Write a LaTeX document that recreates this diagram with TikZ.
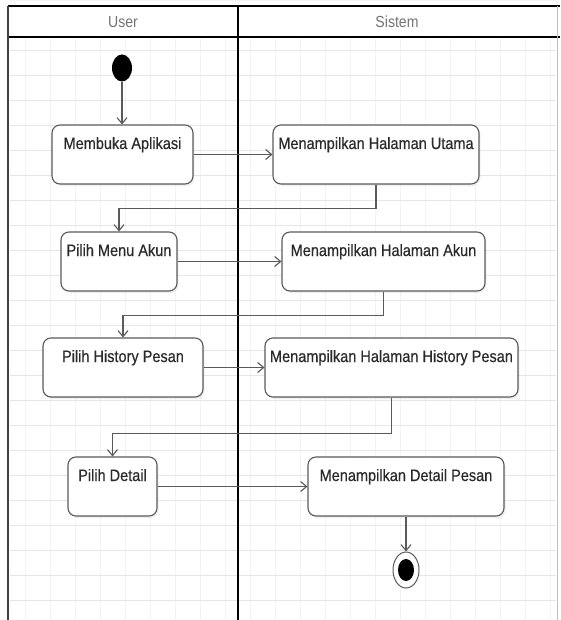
\documentclass[tikz,border=0pt]{standalone}
\usepackage{fontspec}
\setmainfont{Liberation Sans}
\newfontfamily\actfont[FakeStretch=0.88,FakeBold=0.4]{Liberation Sans}
\newfontfamily\headfont[FakeStretch=0.88]{Liberation Sans}
\usetikzlibrary{arrows.meta,shapes.geometric,shadows}
\definecolor{LineGray}{HTML}{5A5A5A}
\definecolor{GridGray}{HTML}{E6E6E6}
\definecolor{GridGrayV}{HTML}{F4F4F4}
\definecolor{TextGray}{HTML}{2A2A2A}

\begin{document}
\begin{tikzpicture}[x=1pt,y=-1pt,>={Straight Barb[length=6pt,width=10pt]},
    act/.style={draw=LineGray,line width=1.1pt,rounded corners=8pt,fill=white,
      drop shadow={shadow xshift=1.5pt,shadow yshift=-2pt,opacity=.12},
      font=\actfont\fontsize{16.5}{19}\selectfont,text=TextGray,
      inner xsep=3pt,inner ysep=5pt,text height=19pt,text depth=30pt},
    flow/.style={->,draw=LineGray,line width=1.1pt},
    lane/.style={line width=2.5pt},
    head/.style={text=black!55,font=\headfont\fontsize{16}{18}\selectfont}]
  \useasboundingbox (0,0) rectangle (560,620);
  \fill[white] (0,0) rectangle (560,620);
  \draw[GridGrayV,line width=.6pt] (10,38) grid[xstep=25pt,ystep=2000pt] (556,620);
  \draw[GridGray,line width=.7pt] (10,38) grid[xstep=2000pt,ystep=25pt] (556,620);

  % swimlanes
  \draw[lane] (8,6) -- (560,6);
  \draw[lane] (8,37) -- (560,37);
  \draw[lane] (238,6) -- (238,620);
  \draw[line width=2pt,black!75] (8,6) -- (8,620);
  \draw[line width=1pt,black!25] (557,6) -- (557,620);
  \node[head] (user) at (123,22) {User};
  \node[head] (sistem) at (397,22) {Sistem};

  % activities
  \node[ellipse,fill=black,minimum width=20pt,minimum height=27pt,inner sep=0pt] (start) at (122,68) {};
  \node[act,minimum width=141pt] (app) at (122.5,154.5) {Membuka Aplikasi};
  \node[act,minimum width=206pt] (home) at (376,154.5) {Menampilkan Halaman Utama};
  \node[act,minimum width=116pt] (menu) at (119,261.5) {Pilih Menu Akun};
  \node[act,minimum width=203pt] (akun) at (383.5,261.5) {Menampilkan Halaman Akun};
  \node[act,minimum width=160pt] (hist) at (123,367.5) {Pilih History Pesan};
  \node[act,minimum width=253pt] (hpesan) at (391.5,367.5) {Menampilkan Halaman History Pesan};
  \node[act,minimum width=89pt] (detail) at (112.5,486.5) {Pilih Detail};
  \node[act,minimum width=196pt] (dpesan) at (406,486.5) {Menampilkan Detail Pesan};
  \node[ellipse,draw=LineGray,line width=1pt,fill=white,minimum width=26pt,minimum height=36pt,inner sep=0pt] (stop) at (406,570) {};
  \node[ellipse,fill=black,minimum width=16pt,minimum height=22pt,inner sep=0pt] (stopdot) at (stop) {};

  % flows
  \draw[flow] (start) -- (start |- app.north);
  \draw[flow] (app) -- (home);
  \draw[flow] (home.south) -- ++(0,24) -| (menu.north);
  \draw[flow] (menu) -- (akun);
  \draw[flow] (akun.south) -- ++(0,24) -| (hist.north);
  \draw[flow] (hist) -- (hpesan);
  \draw[flow] (hpesan.south) -- ++(0,36) -| (detail.north);
  \draw[flow] (detail) -- (dpesan);
  \draw[flow] (dpesan) -- (stop);
\end{tikzpicture}
\end{document}
